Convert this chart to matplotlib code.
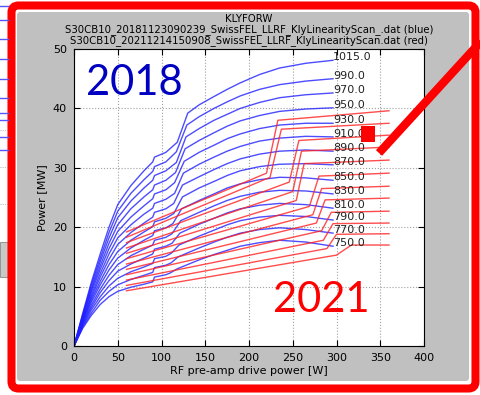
import matplotlib
matplotlib.use("Agg")
import matplotlib.pyplot as plt
from matplotlib.patches import Rectangle, FancyBboxPatch

# ---- 2018 scan (blue): drive power [W] vs klystron output [MW], one curve per HV setting
blue_labels = ["750.0", "770.0", "790.0", "810.0", "830.0", "850.0", "870.0",
               "890.0", "910.0", "930.0", "950.0", "970.0", "990.0", "1015.0"]
blue_x_head = [0, 10, 20, 30, 40, 50, 65, 80, 90, 92, 105]
blue_x_tail = [143, 160, 175, 190, 212, 235, 265, 296]
# start / end of the steep rise per curve
blue_step_a = [110, 111, 111, 112, 112, 113, 114, 114, 115, 115, 116, 117, 117, 118]
blue_step_b = [118, 119, 120, 121, 122, 123, 124, 124, 125, 126, 127, 128, 129, 130]

blue_750 = [0, 3.0, 5.2, 7.0, 8.3, 9.2, 9.9, 10.4, 10.8, 11.6, 12.0, 12.3, 13.0,
            14.5, 15.4, 16.1, 16.8, 17.4, 17.8, 17.5, 16.8]
blue_770 = [0, 3.2, 5.6, 7.7, 9.2, 10.3, 11.2, 11.9, 12.4, 13.2, 13.6, 14.0, 15.0,
            16.5, 17.5, 18.3, 19.0, 19.6, 19.9, 19.6, 19.0]
blue_790 = [0, 3.4, 6.1, 8.3, 10.1, 11.4, 12.5, 13.3, 13.9, 14.7, 15.1, 15.6, 17.0,
            18.5, 19.5, 20.4, 21.1, 21.7, 22.0, 21.8, 21.2]
blue_810 = [0, 3.6, 6.5, 9.0, 11.0, 12.6, 13.8, 14.8, 15.5, 16.3, 16.8, 17.3, 19.0,
            20.5, 21.5, 22.4, 23.1, 23.7, 24.0, 23.8, 23.2]
blue_830 = [0, 3.8, 6.9, 9.6, 11.9, 13.7, 15.2, 16.3, 17.0, 17.8, 18.3, 18.9, 21.1,
            22.5, 23.6, 24.5, 25.2, 25.9, 26.2, 26.1, 25.6]
blue_850 = [0, 4.0, 7.4, 10.3, 12.8, 14.8, 16.5, 17.8, 18.6, 19.4, 19.9, 20.6, 23.1,
            24.5, 25.6, 26.6, 27.3, 28.0, 28.4, 28.3, 27.9]
blue_870 = [0, 4.2, 7.8, 10.9, 13.7, 15.9, 17.8, 19.2, 20.1, 20.9, 21.5, 22.3, 25.1,
            26.6, 27.7, 28.7, 29.5, 30.2, 30.6, 30.7, 30.5]
blue_890 = [0, 4.3, 8.2, 11.6, 14.6, 17.1, 19.1, 20.7, 21.7, 22.5, 23.1, 24.0, 27.1,
            28.5, 29.7, 30.7, 31.5, 32.3, 32.8, 33.0, 32.8]
blue_910 = [0, 4.5, 8.6, 12.2, 15.5, 18.2, 20.4, 22.2, 23.2, 24.0, 24.7, 25.7, 29.1,
            30.6, 31.8, 32.8, 33.6, 34.5, 35.0, 35.3, 35.2]
blue_930 = [0, 4.7, 9.1, 12.9, 16.4, 19.3, 21.7, 23.6, 24.8, 25.6, 26.3, 27.5, 31.1,
            32.6, 33.8, 34.9, 35.7, 36.6, 37.2, 37.5, 37.5]
blue_950 = [0, 4.9, 9.5, 13.5, 17.3, 20.4, 23.1, 25.1, 26.3, 27.1, 27.9, 29.2, 33.2,
            34.6, 35.9, 37.0, 37.9, 38.8, 39.5, 39.9, 40.1]
blue_970 = [0, 5.1, 9.9, 14.2, 18.2, 21.6, 24.4, 26.6, 27.9, 28.7, 29.5, 30.9, 35.2,
            36.6, 38.0, 39.0, 40.0, 41.0, 41.8, 42.3, 42.6]
blue_990 = [0, 5.3, 10.4, 14.8, 19.1, 22.7, 25.7, 28.0, 29.4, 30.2, 31.0, 32.7, 37.2,
            38.6, 40.0, 41.1, 42.1, 43.2, 44.0, 44.6, 45.0]
blue_1015 = [0, 5.5, 10.8, 15.5, 20.0, 23.8, 27.0, 29.5, 31.0, 31.8, 32.6, 34.3, 39.2,
             40.6, 42.0, 43.2, 44.3, 45.7, 46.8, 47.6, 48.1]
blue_curves = [blue_750, blue_770, blue_790, blue_810, blue_830, blue_850, blue_870,
               blue_890, blue_910, blue_930, blue_950, blue_970, blue_990, blue_1015]

# ---- 2021 scan (red): ramp from 60 W, steep step, flat top up to 360 W
red_start_x = 60
red_end_x = 360
red_start_y = [9.3, 10.2, 11.1, 12.0, 12.9, 13.8, 14.7, 15.6, 16.5, 17.4, 18.3, 19.2]
red_step_a = [300, 289, 285, 283, 277, 273, 269, 254, 250, 246, 224, 220]
red_step_b = [317, 300, 296, 294, 287, 283, 280, 263, 260, 257, 237, 233]
red_pre_y = [15.3, 16.4, 17.8, 19.4, 20.7, 22.1, 23.5, 24.5, 26.0, 27.6, 28.4, 29.1]
red_post_y = [17.0, 18.8, 20.6, 22.5, 24.6, 26.5, 28.6, 30.7, 32.8, 34.6, 36.5, 38.0]
red_end_y = [17.0, 18.9, 20.7, 22.7, 24.9, 26.9, 29.1, 31.3, 33.5, 35.5, 37.5, 39.6]

title_lines = ["KLYFORW",
               "S30CB10_20181123090239_SwissFEL_LLRF_KlyLinearityScan_.dat (blue)",
               "S30CB10_20211214150908_SwissFEL_LLRF_KlyLinearityScan.dat (red)"]

W, H = 481, 395
fig = plt.figure(figsize=(W / 100, H / 100), dpi=100)
fig.patch.set_facecolor("white")

# background layer in pixel coordinates
bg = fig.add_axes([0, 0, 1, 1], zorder=0)
bg.set_xlim(0, W); bg.set_ylim(H, 0); bg.axis("off")
bg.add_patch(Rectangle((0, 242), 8, 35, facecolor="#c8c8c8", edgecolor="#888888", lw=0.6))
for yy in [6, 20, 39, 59, 79, 98, 113, 120, 137, 150]:
    bg.plot([0, 8], [yy, yy], color="#5555ff", lw=1.0)
for yy in [130, 167, 204]:
    bg.plot([0, 8], [yy, yy], color="#999999", lw=0.6, ls=":")
bg.add_patch(FancyBboxPatch((17, 12), 452, 369, boxstyle="round,pad=0,rounding_size=3",
                            facecolor="#c0c0c0", edgecolor="none"))
bg.add_patch(FancyBboxPatch((11.5, 5.5), 464, 383, boxstyle="round,pad=0,rounding_size=7",
                            facecolor="none", edgecolor="#ff0000", lw=5.8))

ax = fig.add_axes([74 / W, 1 - 346 / H, 350 / W, 297 / H], zorder=1)
ax.set_facecolor("white")
for i, (yv, lab) in enumerate(zip(blue_curves, blue_labels)):
    xv = blue_x_head + [blue_step_a[i], blue_step_b[i]] + blue_x_tail
    ax.plot(xv, yv, color="#2020ff", lw=1.0, alpha=0.8)
    ax.text(xv[-1], yv[-1], lab, fontsize=8, color="#222222", ha="left", va="baseline")
for i in range(len(red_start_y)):
    xv = [red_start_x, red_step_a[i], red_step_b[i], red_end_x]
    yv = [red_start_y[i], red_pre_y[i], red_post_y[i], red_end_y[i]]
    ax.plot(xv, yv, color="#ff2020", lw=1.0, alpha=0.8)

ax.set_xlim(0, 400)
ax.set_ylim(0, 50)
ax.set_xticks(range(0, 401, 50))
ax.set_yticks(range(0, 51, 10))
ax.grid(True, color="#a0a0a0", ls=":", lw=0.8)
ax.tick_params(direction="in", top=True, right=True, labelsize=8, length=4, pad=5)
ax.set_xlabel("RF pre-amp drive power [W]", fontsize=8, labelpad=2)
ax.set_ylabel("Power [MW]", fontsize=8, labelpad=4)
ax.set_title("\n".join(title_lines), fontsize=7.3, linespacing=1.05, pad=4)
for s in ax.spines.values():
    s.set_linewidth(0.8)

# annotation layer on top
ov = fig.add_axes([0, 0, 1, 1], zorder=5)
ov.set_xlim(0, W); ov.set_ylim(H, 0); ov.axis("off"); ov.patch.set_alpha(0)
ov.text(86, 95, "2018", fontsize=30, family="Lato", color="#0000c0", ha="left", va="baseline")
ov.text(273, 312, "2021", fontsize=30, family="Lato", color="#ff0000", ha="left", va="baseline")
ov.add_patch(Rectangle((361, 126), 14, 16, facecolor="#ff0000", edgecolor="none"))
ov.plot([379, 485], [153, 37], color="#ff0000", lw=6.0, solid_capstyle="butt")

fig.savefig("out.png", dpi=100)
